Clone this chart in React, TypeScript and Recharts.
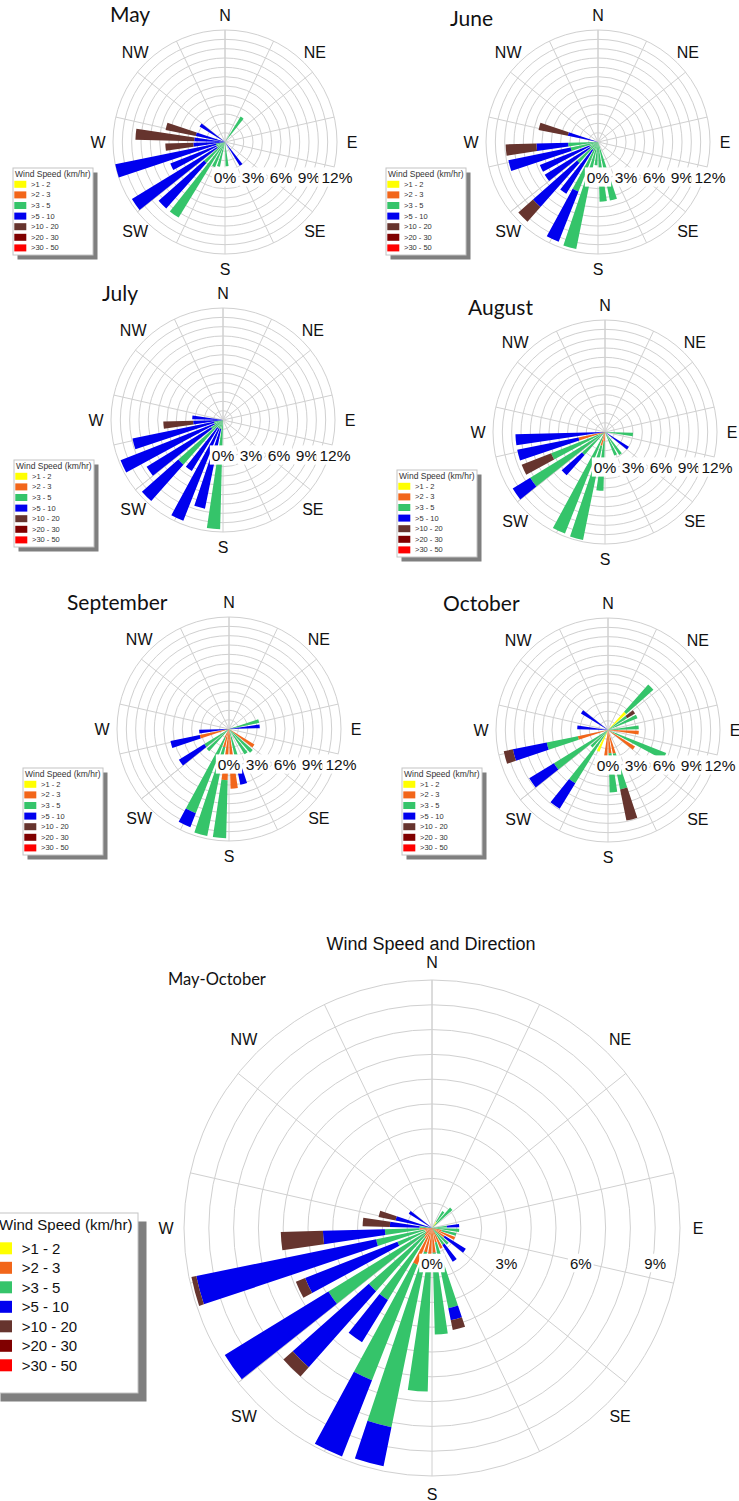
import React from 'react'
import { RadialBarChart, RadialBar, PolarGrid, PolarAngleAxis, PolarRadiusAxis } from 'recharts'

// speed classes, stacked from the centre outwards
const SPEEDS = [
  { key: 's1', label: '>1 - 2', color: '#FFFF00' },
  { key: 's2', label: '>2 - 3', color: '#F2661A' },
  { key: 's3', label: '>3 - 5', color: '#35C46A' },
  { key: 's4', label: '>5 - 10', color: '#0000EE' },
  { key: 's5', label: '>10 - 20', color: '#66342E' },
  { key: 's6', label: '>20 - 30', color: '#800000' },
  { key: 's7', label: '>30 - 50', color: '#FF0000' },
]

// 10 degree direction bins (bin centre bearings); the first band sits just left of north
const DIRECTIONS = [
  355, 5, 15, 25, 35, 45, 55, 65, 75, 85, 95, 105, 115, 125, 135, 145, 155, 165,
  175, 185, 195, 205, 215, 225, 235, 245, 255, 265, 275, 285, 295, 305, 315, 325, 335, 345,
]

const COMPASS_BEARINGS = [0, 22.5, 45, 67.5, 90, 112.5, 135, 157.5, 180, 202.5, 225, 247.5, 270, 292.5, 315, 337.5]
const COMPASS_NAMES: Record<number, string> = { 0: 'N', 45: 'NE', 90: 'E', 135: 'SE', 180: 'S', 225: 'SW', 270: 'W', 315: 'NW' }

const RINGS_SMALL = [0, 1, 2, 3, 4, 5, 6, 7, 8, 9, 10, 11, 12]
const RINGS_BIG = [0, 1, 2, 3, 4, 5, 6, 7, 8, 9, 10]
const PCT_LABELS_SMALL = [0, 3, 6, 9, 12]
const PCT_LABELS_BIG = [0, 3, 6, 9]

// rows: [bearing, >1-2, >2-3, >3-5, >5-10, >10-20, >20-30, >30-50]  (% of time)
type Row = number[]

const MAY: Row[] = [
  [35, 0, 0, 3.2, 0, 0, 0, 0],
  [145, 0, 0, 0, 3.0, 0, 0, 0],
  [175, 0, 0, 2.6, 0, 0, 0, 0],
  [195, 0, 0, 2.7, 0, 0, 0, 0],
  [205, 0, 0, 2.9, 0, 0, 0, 0],
  [215, 0, 0, 9.5, 0, 0, 0, 0],
  [225, 0, 0, 3.0, 6.5, 0, 0, 0],
  [235, 0, 0, 1.0, 10.7, 0, 0, 0],
  [245, 0, 0, 1.0, 5.3, 0, 0, 0],
  [255, 0, 0, 1.0, 11.0, 0, 0, 0],
  [265, 0, 0, 0, 3.4, 3.0, 0, 0],
  [275, 0, 0, 0, 3.3, 6.3, 0, 0],
  [285, 0, 0, 0, 3.2, 3.3, 0, 0],
  [305, 0, 0, 0, 3.2, 0, 0, 0],
]

const JUNE: Row[] = [
  [165, 0, 0, 6.4, 0, 0, 0, 0],
  [175, 0, 0, 6.4, 0, 0, 0, 0],
  [185, 0, 0, 2.5, 0, 0, 0, 0],
  [195, 0, 0, 11.7, 0, 0, 0, 0],
  [205, 0, 0, 5.7, 5.8, 0, 0, 0],
  [215, 0, 0, 1.0, 5.5, 0, 0, 0],
  [225, 0, 0, 3.0, 6.3, 2.1, 0, 0],
  [235, 0, 0, 1.0, 5.7, 0, 0, 0],
  [245, 0, 0, 1.0, 5.7, 0, 0, 0],
  [255, 0, 0, 3.0, 6.8, 0, 0, 0],
  [265, 0, 0, 3.2, 3.4, 3.3, 0, 0],
  [285, 0, 0, 0, 3.3, 3.2, 0, 0],
]

const JULY: Row[] = [
  [185, 0, 0, 11.7, 0, 0, 0, 0],
  [195, 0, 0, 1.0, 8.7, 0, 0, 0],
  [205, 0, 0, 1.0, 10.6, 0, 0, 0],
  [215, 0, 0, 1.0, 5.4, 0, 0, 0],
  [225, 0, 0, 6.4, 5.2, 0, 0, 0],
  [235, 0, 0, 1.5, 8.1, 0, 0, 0],
  [245, 0, 0, 1.0, 10.8, 0, 0, 0],
  [255, 0, 0, 1.0, 8.9, 0, 0, 0],
  [265, 0, 0, 0, 3.2, 3.2, 0, 0],
  [275, 0, 0, 0, 3.3, 0, 0, 0],
]

const AUGUST: Row[] = [
  [95, 0, 0, 3.0, 0, 0, 0, 0],
  [125, 0, 0, 0, 3.0, 0, 0, 0],
  [145, 0, 0, 2.9, 0, 0, 0, 0],
  [155, 0, 0, 2.7, 0, 0, 0, 0],
  [185, 0, 1.0, 5.3, 0, 0, 0, 0],
  [195, 0, 1.5, 10.3, 0, 0, 0, 0],
  [205, 0, 0.5, 11.2, 0, 0, 0, 0],
  [225, 0, 0, 3.3, 2.9, 0, 0, 0],
  [235, 0, 0, 9.4, 2.2, 0, 0, 0],
  [245, 0, 0.5, 5.7, 0, 3.4, 0, 0],
  [255, 0, 2.9, 0, 6.7, 0, 0, 0],
  [265, 0, 0, 0, 9.6, 0, 0, 0],
]

const SEPTEMBER: Row[] = [
  [75, 0, 0, 3.3, 0, 0, 0, 0],
  [85, 0, 0, 0, 3.3, 0, 0, 0],
  [125, 0, 3.2, 0, 0, 0, 0, 0],
  [135, 0, 0, 3.4, 0, 0, 0, 0],
  [145, 0, 0, 3.2, 0, 0, 0, 0],
  [165, 0, 0, 4.5, 1.6, 0, 0, 0],
  [175, 0, 6.4, 0, 0, 0, 0, 0],
  [185, 0, 5.5, 6.2, 0, 0, 0, 0],
  [195, 0, 2.0, 9.7, 0, 0, 0, 0],
  [205, 0, 1.0, 8.7, 1.6, 0, 0, 0],
  [225, 0, 0, 3.2, 0, 0, 0, 0],
  [235, 0, 0, 3.1, 3.2, 0, 0, 0],
  [255, 0, 3.2, 0, 3.2, 0, 0, 0],
  [265, 0, 0, 0, 3.2, 0, 0, 0],
]

const OCTOBER: Row[] = [
  [45, 2.6, 0, 3.9, 0, 0, 0, 0],
  [55, 0, 0, 2.4, 0, 1.0, 0, 0],
  [65, 0, 0, 3.4, 0, 0, 0, 0],
  [85, 0, 0, 3.3, 0, 0, 0, 0],
  [95, 0, 3.3, 0, 0, 0, 0, 0],
  [115, 0, 0, 6.7, 0, 0, 0, 0],
  [125, 0, 3.4, 0, 0, 0, 0, 0],
  [165, 0, 2.6, 3.9, 0, 3.4, 0, 0],
  [175, 0, 2.5, 4.2, 0, 0, 0, 0],
  [185, 0, 3.2, 0, 0, 0, 0, 0],
  [205, 2.5, 0, 0, 0, 0, 0, 0],
  [215, 0, 0, 6.7, 3.2, 0, 0, 0],
  [225, 0, 0, 2.5, 0, 0, 0, 0],
  [235, 0, 0, 6.8, 3.1, 0, 0, 0],
  [255, 0, 3.3, 3.4, 3.7, 1.0, 0, 0],
  [275, 0, 0, 0, 3.3, 0, 0, 0],
  [305, 0, 0, 0, 3.4, 0, 0, 0],
]

const MAY_OCTOBER: Row[] = [
  [35, 0.3, 0, 0.5, 0, 0, 0, 0],
  [45, 0, 0, 1.1, 0, 0, 0, 0],
  [85, 0, 0, 0.6, 0.5, 0, 0, 0],
  [95, 0, 0, 1.1, 0, 0, 0, 0],
  [105, 0, 0.4, 0.6, 0, 0, 0, 0],
  [115, 0, 1.0, 0, 0, 0, 0, 0],
  [125, 0, 0.6, 0, 1.0, 0, 0, 0],
  [135, 0, 0, 0.9, 0, 0, 0, 0],
  [145, 0, 0, 0.8, 0.8, 0, 0, 0],
  [155, 0, 0.9, 0, 0, 0, 0, 0],
  [165, 0, 0.6, 2.7, 0.5, 0.4, 0, 0],
  [175, 0, 1.0, 3.3, 0, 0, 0, 0],
  [185, 0, 1.2, 5.4, 0, 0, 0, 0],
  [195, 0, 1.0, 7.2, 1.6, 0, 0, 0],
  [205, 0, 1.6, 5.0, 3.3, 0, 0, 0],
  [215, 0, 0.5, 2.9, 2.0, 0, 0, 0],
  [225, 0, 0.4, 3.0, 4.1, 0.5, 0, 0],
  [235, 0, 0.3, 4.6, 4.9, 0, 0, 0],
  [245, 0, 0.3, 1.2, 4.0, 0.4, 0, 0],
  [255, 0, 0.3, 2.0, 7.4, 0.2, 0, 0],
  [265, 0, 0.5, 1.4, 2.5, 1.7, 0, 0],
  [275, 0, 0, 0.5, 1.2, 1.1, 0, 0],
  [285, 0, 0, 0, 1.5, 0.7, 0, 0],
  [305, 0, 0, 0, 1.1, 0, 0, 0],
]

const FONT = '"Liberation Sans", Arial, sans-serif'

function buildData(rows: Row[]) {
  return DIRECTIONS.map((dir) => {
    const row = rows.find((r) => r[0] === dir)
    const item: Record<string, number> = { dir }
    SPEEDS.forEach((s, i) => {
      item[s.key] = row ? row[i + 1] : 0
    })
    return item
  })
}

interface RoseProps {
  rows: Row[]
  centerX: number
  centerY: number
  radius: number
  rings: number[]
  pctLabels: number[]
  labelGap: number
  compassSize: number
  pctSize: number
}

function Rose({ rows, centerX, centerY, radius, rings, pctLabels, labelGap, compassSize, pctSize }: RoseProps) {
  const half = radius + 40
  const size = half * 2
  const data = buildData(rows)

  const compassTick = (props: any) => {
    const v = props.payload.value
    const name = COMPASS_NAMES[v]
    if (!name) return <g />
    const a = ((90 - v) * Math.PI) / 180
    const r = radius + labelGap
    return (
      <text
        x={half + r * Math.cos(a)}
        y={half - r * Math.sin(a)}
        textAnchor="middle"
        dominantBaseline="central"
        fontSize={compassSize}
        fontFamily={FONT}
        fill="#111"
      >
        {name}
      </text>
    )
  }

  const pctTick = (props: any) => {
    const { x, y, payload } = props
    if (!pctLabels.includes(payload.value)) return <g />
    const text = `${payload.value}%`
    const w = text.length * pctSize * 0.72 + 4
    const ty = y + 35
    return (
      <g>
        <rect x={x - w / 2} y={ty - pctSize * 0.62} width={w} height={pctSize * 1.24} fill="#fff" />
        <text x={x} y={ty} textAnchor="middle" dominantBaseline="central" fontSize={pctSize} fontFamily={FONT} fill="#111">
          {text}
        </text>
      </g>
    )
  }

  return (
    <div style={{ position: 'absolute', left: centerX - half, top: centerY - half }}>
      <RadialBarChart
        width={size}
        height={size}
        data={data}
        cx={half}
        cy={half}
        innerRadius={0}
        outerRadius={radius}
        startAngle={90}
        endAngle={-270}
        layout="centric"
        barCategoryGap="15%"
        margin={{ top: 0, right: 0, bottom: 0, left: 0 }}
      >
        <PolarGrid gridType="circle" stroke="#d0d0d0" />
        <PolarAngleAxis
          type="number"
          domain={[0, 360]}
          ticks={COMPASS_BEARINGS}
          axisLine={false}
          tickLine={false}
          tick={compassTick}
        />
        <PolarAngleAxis angleAxisId="dir" type="category" dataKey="dir" axisLine={false} tickLine={false} tick={false} />
        {SPEEDS.map((s) => (
          <RadialBar key={s.key} angleAxisId="dir" dataKey={s.key} stackId="wind" fill={s.color} isAnimationActive={false} />
        ))}
        <PolarRadiusAxis
          type="number"
          domain={[0, rings[rings.length - 1]]}
          ticks={rings}
          angle={0}
          axisLine={false}
          tickLine={false}
          tick={pctTick}
        />
      </RadialBarChart>
    </div>
  )
}

interface LegendProps {
  x: number
  y: number
  w: number
  h: number
  shadow: number
  titleSize: number
  titleX: number
  titleY: number
  rowY: number
  rowStep: number
  swX: number
  swW: number
  swH: number
  textX: number
  textSize: number
  textColor: string
}

function SpeedLegend(p: LegendProps) {
  return (
    <g fontFamily={FONT}>
      <rect x={p.x + p.shadow} y={p.y + p.shadow} width={p.w} height={p.h} fill="#7f7f7f" />
      <rect x={p.x} y={p.y} width={p.w} height={p.h} fill="#fff" stroke="#c4c4c4" strokeWidth={1} />
      <text x={p.x + p.titleX} y={p.y + p.titleY} fontSize={p.titleSize} fill={p.textColor}>
        Wind Speed (km/hr)
      </text>
      {SPEEDS.map((s, i) => (
        <g key={s.key}>
          <rect x={p.x + p.swX} y={p.y + p.rowY + i * p.rowStep - p.swH / 2} width={p.swW} height={p.swH} fill={s.color} />
          <text x={p.x + p.textX} y={p.y + p.rowY + i * p.rowStep} dominantBaseline="central" fontSize={p.textSize} fill={p.textColor}>
            {s.label}
          </text>
        </g>
      ))}
    </g>
  )
}

const smallLegend = {
  w: 80, h: 87, shadow: 4.5, titleSize: 8.5, titleX: 2, titleY: 9,
  rowY: 16.3, rowStep: 10.6, swX: 1.3, swW: 12, swH: 7, textX: 18, textSize: 7.5, textColor: '#333',
}

const MONTHS = [
  { name: 'May', rows: MAY, cx: 225, cy: 142, tx: 110, ty: 22, lx: 13, ly: 168 },
  { name: 'June', rows: JUNE, cx: 598, cy: 142, tx: 450, ty: 26, lx: 386, ly: 168 },
  { name: 'July', rows: JULY, cx: 223, cy: 420, tx: 102, ty: 301, lx: 14, ly: 460 },
  { name: 'August', rows: AUGUST, cx: 605, cy: 432, tx: 468, ty: 315, lx: 397, ly: 470 },
  { name: 'September', rows: SEPTEMBER, cx: 229, cy: 729, tx: 67, ty: 610, lx: 23, ly: 768 },
  { name: 'October', rows: OCTOBER, cx: 608, cy: 730, tx: 443, ty: 611, lx: 402, ly: 768 },
]

export default function App() {
  return (
    <div style={{ position: 'absolute', left: 0, top: 0, width: 739, height: 1501, background: '#fff', overflow: 'hidden' }}>
      {MONTHS.map((m) => (
        <Rose
          key={m.name}
          rows={m.rows}
          centerX={m.cx}
          centerY={m.cy}
          radius={112}
          rings={RINGS_SMALL}
          pctLabels={PCT_LABELS_SMALL}
          labelGap={15}
          compassSize={16}
          pctSize={15.5}
        />
      ))}
      <Rose
        rows={MAY_OCTOBER}
        centerX={431.5}
        centerY={1227.5}
        radius={248}
        rings={RINGS_BIG}
        pctLabels={PCT_LABELS_BIG}
        labelGap={18}
        compassSize={16}
        pctSize={15}
      />
      <svg width={739} height={1501} style={{ position: 'absolute', left: 0, top: 0, pointerEvents: 'none' }}>
        {MONTHS.map((m) => (
          <g key={m.name}>
            <text x={m.tx} y={m.ty} fontFamily="Lato, sans-serif" fontSize={21} fill="#111">
              {m.name}
            </text>
            <SpeedLegend x={m.lx} y={m.ly} {...smallLegend} />
          </g>
        ))}
        <text x={168} y={985} fontFamily="Lato, sans-serif" fontSize={16.5} fill="#111">
          May-October
        </text>
        <text x={431} y={950} textAnchor="middle" fontFamily={FONT} fontSize={18} fill="#111">
          Wind Speed and Direction
        </text>
        <SpeedLegend
          x={-8}
          y={1213}
          w={146}
          h={180}
          shadow={8.5}
          titleSize={15}
          titleX={7}
          titleY={17}
          rowY={35.3}
          rowStep={19.5}
          swX={-4}
          swW={24}
          swH={12}
          textX={29.7}
          textSize={15}
          textColor="#111"
        />
      </svg>
    </div>
  )
}
